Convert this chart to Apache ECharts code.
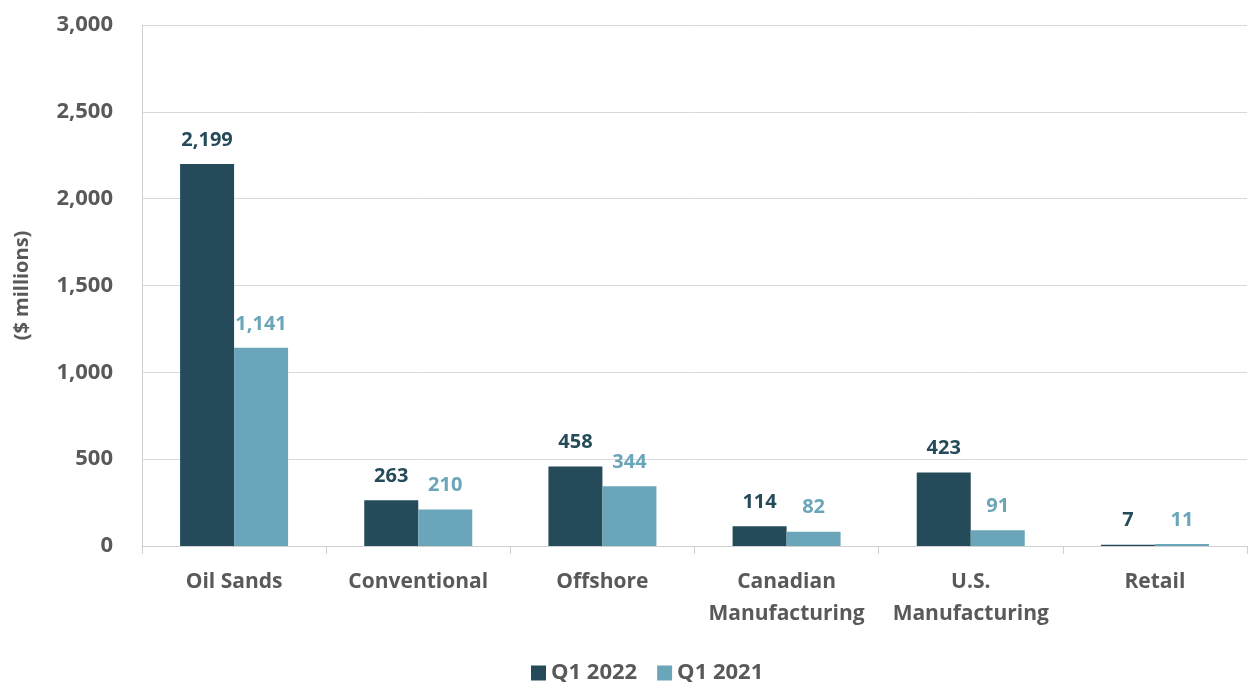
<!DOCTYPE html>
<html>
<head>
<meta charset="utf-8">
<script src="https://cdn.jsdelivr.net/npm/echarts@6/dist/echarts.min.js"></script>
<style>
  html, body { margin: 0; padding: 0; background: #fff; }
  #chart { width: 1248px; height: 682px; }
</style>
</head>
<body>
<div id="chart"></div>
<script>
const categories = ['Oil Sands', 'Conventional', 'Offshore', 'Canadian\nManufacturing', 'U.S.\nManufacturing', 'Retail']
const q12022 = [2199, 263, 458, 114, 423, 7]
const q12021 = [1141, 210, 344, 82, 91, 11]
const seriesNames = ['Q1 2022', 'Q1 2021']

const dark = '#254b5a'
const light = '#6aa5ba'
const grey = '#595959'
const font = '"Open Sans", "Noto Sans", sans-serif'

const chart = echarts.init(document.getElementById('chart'))

const labelStyle = color => ({
    show: true,
    position: 'top',
    distance: 14,
    color: color,
    fontFamily: font,
    fontWeight: 'bold',
    fontSize: 20,
    formatter: p => p.value.toLocaleString('en-US')
})

chart.setOption({
    animation: false,
    textStyle: { fontFamily: font },
    grid: { left: 142, right: 1, top: 25, bottom: 136, containLabel: false },
    legend: {
        top: 662,
        left: 531,
        itemWidth: 15,
        itemHeight: 15,
        itemGap: 20,
        icon: 'rect',
        padding: 0,
        textStyle: { color: grey, fontSize: 22, fontWeight: 'bold', fontFamily: font },
        data: seriesNames
    },
    xAxis: {
        type: 'category',
        data: categories,
        axisLine: { lineStyle: { color: '#d0d0d0', width: 1 } },
        axisTick: { show: true, length: 8, lineStyle: { color: '#d0d0d0' } },
        axisLabel: {
            interval: 0,
            color: grey,
            fontSize: 21,
            fontWeight: 'bold',
            fontFamily: font,
            margin: 20,
            lineHeight: 32
        }
    },
    yAxis: {
        type: 'value',
        min: 0,
        max: 3000,
        interval: 500,
        name: '($ millions)',
        nameLocation: 'middle',
        nameGap: 110,
        nameRotate: 90,
        nameTextStyle: { color: grey, fontSize: 20, fontWeight: 'bold', fontFamily: font },
        axisLine: { show: true, lineStyle: { color: '#d0d0d0' } },
        axisTick: { show: false },
        splitLine: { lineStyle: { color: '#d9d9d9', width: 1 } },
        axisLabel: {
            color: grey,
            fontSize: 22,
            fontWeight: 'bold',
            fontFamily: font,
            margin: 29,
            formatter: v => v.toLocaleString('en-US')
        }
    },
    series: [
        {
            name: seriesNames[0],
            type: 'bar',
            data: q12022,
            barWidth: 54,
            barGap: '0%',
            itemStyle: { color: dark },
            label: labelStyle(dark)
        },
        {
            name: seriesNames[1],
            type: 'bar',
            data: q12021,
            barWidth: 54,
            itemStyle: { color: light },
            label: labelStyle(light)
        }
    ]
})
</script>
</body>
</html>
